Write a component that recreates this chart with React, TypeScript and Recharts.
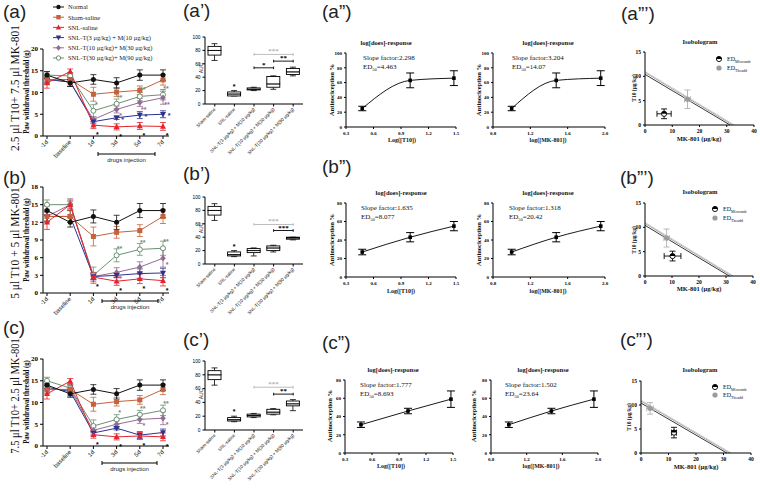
import React from "react";
import {
    LineChart,
    Line,
    XAxis,
    YAxis,
    ErrorBar,
    BarChart,
    Bar,
    ReferenceLine,
    ScatterChart,
    Scatter,
} from "recharts";

const SERIF = '"Liberation Serif", "Times New Roman", serif';
const SANS = '"Liberation Sans", Arial, sans-serif';

// ---------- time course: paw withdrawal threshold (g) ----------
const days = ["-1d", "baseline", "1d", "3d", "5d", "7d"];
const groupNames = [
    "Normal",
    "Sham-saline",
    "SNL-saline",
    "SNL-T(3 μg/kg) + M(10 μg/kg)",
    "SNL-T(10 μg/kg)+ M(30 μg/kg)",
    "SNL-T(30 μg/kg)+ M(90 μg/kg)",
];
const groupColors = ["#111111", "#c4623c", "#e3262d", "#2e3190", "#946b93", "#6c9073"];
const groupMarks = ["circle", "square", "up", "down", "diamond", "open"];

// rows: Normal, Sham, SNL-saline, T3+M10, T10+M30, T30+M90
const pwtA = [
    [14, 12.2, 13, 12.2, 14, 14],
    [12.9, 13, 9.6, 10.1, 10.5, 12.9],
    [12.2, 14.8, 2.5, 2.1, 2.3, 2.2],
    [13, 12.4, 3.3, 4.2, 4.8, 5.0],
    [13, 12.4, 3.8, 6.1, 7.7, 8.8],
    [14, 13.8, 5.8, 7.4, 9.1, 9.5],
];
const pwtB = [
    [14, 12, 13, 12, 14, 14],
    [13, 13, 9.6, 10.3, 10.6, 13],
    [12, 15, 2.7, 2.0, 2.4, 2.1],
    [13, 13, 2.8, 3.0, 3.3, 3.4],
    [13, 15, 2.8, 3.5, 4.4, 5.9],
    [15, 15, 3.0, 6.4, 7.4, 7.6],
];
const pwtC = [
    [14, 12, 13, 12, 14, 14],
    [13, 13, 9.6, 10.2, 10.6, 13],
    [12, 14.9, 2.6, 2.1, 2.3, 2.1],
    [13.5, 12.5, 3.0, 4.1, 2.5, 3.1],
    [13, 13, 3.6, 5.0, 6.1, 6.4],
    [15, 13.3, 4.6, 6.1, 7.2, 8.2],
];
const pwtSem = [
    [0.8, 0.8, 1.1, 1.2, 1.2, 1.2],
    [1.0, 1.0, 1.6, 1.0, 1.0, 1.2],
    [1.2, 0.6, 0.8, 0.7, 0.8, 0.9],
    [0.8, 1.0, 0.5, 0.4, 0.8, 0.8],
    [0.8, 1.0, 0.6, 0.8, 0.9, 1.5],
    [0.8, 0.8, 1.4, 1.1, 1.0, 1.2],
];
const starsA = [
    ["", "", "", "", "", ""],
    ["", "", "", "", "", ""],
    ["", "", "*", "*", "*", "*"],
    ["", "", "", "*", "*", "*"],
    ["", "", "", "*", "**", "**"],
    ["", "", "*", "**", "**", "**"],
];
const starsB = [
    ["", "", "", "", "", ""],
    ["", "", "", "", "", ""],
    ["", "", "*", "*", "*", "*"],
    ["", "", "", "", "", ""],
    ["", "", "", "*", "", "*"],
    ["", "", "", "**", "**", "**"],
];
const starsC = [
    ["", "", "", "", "", ""],
    ["", "", "", "", "", ""],
    ["", "", "*", "*", "*", "*"],
    ["", "", "", "", "", ""],
    ["", "", "", "", "*", "*"],
    ["", "", "", "*", "**", "**"],
];
const ticks20 = [0, 5, 10, 15, 20];
const ticks18 = [0, 3, 6, 9, 12, 15, 18];

// ---------- AUC box plots: min, q1, median, q3, max ----------
const aucGroups = [
    "Sham-saline",
    "SNL-saline",
    "SNL-T(3 μg/kg) + M(10 μg/kg)",
    "SNL-T(10 μg/kg) + M(30 μg/kg)",
    "SNL-T(30 μg/kg) + M(90 μg/kg)",
];
const aucA = [[65, 73, 80, 86, 90], [12, 12, 15, 18, 20], [20, 21, 22, 24, 25], [22, 25, 30, 41, 42], [42, 44, 48, 53, 55]];
const aucB = [[65, 73, 80, 86, 90], [11, 12, 14, 18, 20], [12, 17, 20, 23, 24], [18, 20, 24, 27, 28], [36, 37, 39, 40, 40]];
const aucC = [[65, 73, 80, 86, 90], [12, 13, 15, 18, 20], [18, 19, 21, 23, 24], [22, 23, 26, 30, 31], [28, 35, 38, 42, 44]];
const aucStars = ["", "*", "", "", ""];
// from group, to group, level, marks, compared with SNL-saline
const aucBracketsA = [[2, 4, 74, "***", true], [3, 4, 64, "**", false], [2, 3, 54, "*", false]];
const aucBracketsB = [[2, 4, 59, "***", true], [3, 4, 50, "***", false]];
const aucBracketsC = [[2, 4, 62, "***", true], [3, 4, 52, "**", false]];

// ---------- dose-response ----------
const t10Doses = [3, 10, 30];
const mkDoses = [10, 30, 90];
const drMeanA = [25, 63, 66];
const drSemA = [3, 10, 10];
const drMeanB = [27, 43, 55];
const drSemB = [3, 5, 5];
const drMeanC = [31, 46, 59];
const drSemC = [3, 3, 9];
const slopeT10 = ["2.298", "1.635", "1.777"];
const ed50T10 = ["4.463", "8.077", "8.693"];
const slopeMK = ["3.204", "1.318", "1.502"];
const ed50MK = ["14.07", "20.42", "23.64"];
const drTicks100 = [0, 20, 40, 60, 80, 100];
const drTicks80 = [0, 20, 40, 60, 80];

// ---------- isobologram: MK-801 dose, T10 dose, x error, y error ----------
const isoMix = [[7, 2.3, 2.6, 1.0], [10.2, 4.1, 3.1, 1.0], [12, 4.25, 0.9, 1.1]];
const isoTheo = [[15.6, 5.3, 1.1, 1.9], [8.0, 7.8, 1.0, 1.85], [3.3, 9.3, 1.2, 1.2]];
// T10 intercept, MK-801 intercept
const isoLines = [[10.4, 31.2], [10.8, 32.2], [11.0, 32.8]];
const isoLineColors = ["#222", "#9a9a9a", "#c8c8c8"];

// ---------- shared pieces ----------
function Marker({ kind, color, cx, cy, r = 2.5 }: any) {
    if (cx == null || cy == null) return <g />;
    if (kind === "square") return <rect x={cx - r} y={cy - r} width={2 * r} height={2 * r} fill={color} />;
    if (kind === "up")
        return <polygon points={`${cx},${cy - r * 1.3} ${cx + r * 1.2},${cy + r * 0.9} ${cx - r * 1.2},${cy + r * 0.9}`} fill={color} />;
    if (kind === "down")
        return <polygon points={`${cx},${cy + r * 1.3} ${cx + r * 1.2},${cy - r * 0.9} ${cx - r * 1.2},${cy - r * 0.9}`} fill={color} />;
    if (kind === "diamond")
        return <polygon points={`${cx},${cy - r * 1.3} ${cx + r * 1.1},${cy} ${cx},${cy + r * 1.3} ${cx - r * 1.1},${cy}`} fill={color} />;
    if (kind === "open") return <circle cx={cx} cy={cy} r={r} fill="#fff" stroke={color} strokeWidth={1} />;
    return <circle cx={cx} cy={cy} r={r} fill={color} />;
}

const RotTick = ({ x, y, payload, size, font }: any) => (
    <g transform={`translate(${x},${y}) rotate(-45)`}>
        <text x={0} y={0} dy={size * 0.35} textAnchor="end" fontSize={size} fontFamily={font} fill="#222">
            {payload.value}
        </text>
    </g>
);

const starOffsets = [[0, 0], [0, 0], [4, 12], [6, 4], [4, 9], [3, -4]];

function StarText({ x, y, text, g }: any) {
    if (!text || x == null) return <g />;
    const [dx, dy] = starOffsets[g];
    return (
        <text x={x + dx} y={y + dy} textAnchor="middle" fontSize={7} fontWeight={700} fontFamily={SANS} fill={g === 2 ? "#000" : groupColors[g]}>
            {text}
        </text>
    );
}

function TimeCourse({ values, stars, yMax, yTicks, top, mt, plotH }: any) {
    const data = days.map((day, i) => {
        const d: any = { day };
        values.forEach((v: number[], g: number) => {
            d["v" + g] = v[i];
            d["e" + g] = pwtSem[g][i];
        });
        return d;
    });
    const order = [5, 4, 3, 1, 2, 0];
    return (
        <div style={{ position: "absolute", left: 0, top }}>
            <LineChart width={175} height={mt + plotH + 30} data={data} margin={{ top: mt, right: 6, bottom: 0, left: 0 }}>
                <XAxis dataKey="day" interval={0} height={30} padding={{ left: 4, right: 6 }} tickSize={3} stroke="#000"
                    tick={<RotTick size={6} font={SANS} />} />
                <YAxis width={43} type="number" domain={[0, yMax]} ticks={yTicks} interval={0} tickSize={3} stroke="#000"
                    tick={{ fontSize: 7, fontWeight: 700, fontFamily: SERIF, fill: "#000" }} />
                {order.map((g) => (
                    <Line
                        key={g}
                        dataKey={"v" + g}
                        stroke={groupColors[g]}
                        strokeWidth={1}
                        isAnimationActive={false}
                        activeDot={false}
                        dot={(p: any) => <Marker key={p.index} kind={groupMarks[g]} color={groupColors[g]} cx={p.cx} cy={p.cy} />}
                        label={(p: any) => <StarText key={p.index} x={p.x} y={p.y} text={stars[g][p.index]} g={g} />}
                    >
                        <ErrorBar dataKey={"e" + g} width={3} stroke={groupColors[g]} strokeWidth={0.8} />
                    </Line>
                ))}
            </LineChart>
        </div>
    );
}

function Whisker({ x, y, width, height, low }: any) {
    if (x == null) return <g />;
    const cx = x + width / 2;
    const capY = low ? y + height : y;
    return (
        <g>
            <line x1={cx} x2={cx} y1={y} y2={y + height} stroke="#000" strokeWidth={0.8} />
            <line x1={cx - 3} x2={cx + 3} y1={capY} y2={capY} stroke="#000" strokeWidth={0.8} />
        </g>
    );
}

const BoxPart = ({ x, y, width, height }: any) =>
    x == null ? <g /> : <rect x={x} y={y} width={width} height={height} fill="#fff" stroke="#000" strokeWidth={0.9} />;

function AucBox({ stats, brackets, top, plotH }: any) {
    const data = aucGroups.map((name, i) => {
        const [mn, q1, md, q3, mx] = stats[i];
        return { name, base: mn, lw: q1 - mn, lo: md - q1, hi: q3 - md, uw: mx - q3 };
    });
    return (
        <div style={{ position: "absolute", left: 180, top }}>
            <BarChart width={128} height={10 + plotH + 56} data={data} margin={{ top: 10, right: 5, bottom: 0, left: 0 }} barSize={13}>
                <XAxis dataKey="name" interval={0} height={56} tickSize={2.5} stroke="#000" tick={<RotTick size={4.6} font={SANS} />} />
                <YAxis width={25} domain={[0, 100]} ticks={[0, 20, 40, 60, 80, 100]} interval={0} tickSize={2.5} stroke="#000"
                    tick={{ fontSize: 4.8, fill: "#000", fontFamily: SANS }} />
                <Bar dataKey="base" stackId="s" fill="transparent" isAnimationActive={false} />
                <Bar dataKey="lw" stackId="s" isAnimationActive={false} shape={(p: any) => <Whisker {...p} low />} />
                <Bar dataKey="lo" stackId="s" isAnimationActive={false} shape={BoxPart} />
                <Bar dataKey="hi" stackId="s" isAnimationActive={false} shape={BoxPart} />
                <Bar dataKey="uw" stackId="s" isAnimationActive={false} shape={(p: any) => <Whisker {...p} />}
                    label={(p: any) =>
                        aucStars[p.index] ? (
                            <text key={p.index} x={p.x + p.width / 2} y={p.y - 2} textAnchor="middle" fontSize={7} fontWeight={700} fontFamily={SANS}>
                                {aucStars[p.index]}
                            </text>
                        ) : (
                            <g key={p.index} />
                        )
                    } />
                {brackets.map(([a, b, lvl, txt, vsSaline]: any, k: number) => {
                    const col = vsSaline ? "#b4b4b4" : "#000";
                    return [
                        <ReferenceLine key={"h" + k} segment={[{ x: aucGroups[a], y: lvl }, { x: aucGroups[b], y: lvl }]} stroke={col} strokeWidth={0.9}
                            label={{ value: txt, position: "top", fill: col, fontSize: 7, fontWeight: 700, offset: 1 }} />,
                        <ReferenceLine key={"l" + k} segment={[{ x: aucGroups[a], y: lvl + 2 }, { x: aucGroups[a], y: lvl - 2 }]} stroke={col} strokeWidth={0.9} />,
                        <ReferenceLine key={"r" + k} segment={[{ x: aucGroups[b], y: lvl + 2 }, { x: aucGroups[b], y: lvl - 2 }]} stroke={col} strokeWidth={0.9} />,
                    ];
                })}
            </BarChart>
        </div>
    );
}

const tinyTick = { fontSize: 5, fontWeight: 700, fontFamily: SERIF, fill: "#000" };

function DoseResponse({ doses, means, sems, xDomain, xTicks, yMax, yTicks, left, top, plotW, plotH }: any) {
    const data = doses.map((d: number, i: number) => ({ x: Math.log10(d), y: means[i], e: sems[i] }));
    return (
        <div style={{ position: "absolute", left, top }}>
            <LineChart width={26 + plotW + 6} height={8 + plotH + 20} data={data} margin={{ top: 8, right: 6, bottom: 0, left: 0 }}>
                <XAxis type="number" dataKey="x" domain={xDomain} ticks={xTicks} interval={0} allowDataOverflow height={20} tickSize={2}
                    stroke="#000" tick={tinyTick} tickFormatter={(v: number) => v.toFixed(1)} />
                <YAxis width={26} domain={[0, yMax]} ticks={yTicks} interval={0} tickSize={2} stroke="#000" tick={tinyTick} />
                <Line type="monotone" dataKey="y" stroke="#000" strokeWidth={0.9} isAnimationActive={false} activeDot={false}
                    dot={(p: any) => <rect key={p.index} x={p.cx - 1.8} y={p.cy - 1.8} width={3.6} height={3.6} fill="#000" />}>
                    <ErrorBar dataKey="e" width={4} stroke="#000" strokeWidth={1} />
                </Line>
            </LineChart>
        </div>
    );
}

const HalfDot = ({ cx, cy }: any) =>
    cx == null ? <g /> : (
        <g>
            <circle cx={cx} cy={cy} r={2.6} fill="#fff" stroke="#000" strokeWidth={0.9} />
            <path d={`M${cx - 2.6},${cy} A2.6,2.6 0 0 1 ${cx + 2.6},${cy} Z`} fill="#000" />
        </g>
    );

const GrayDot = ({ cx, cy }: any) => (cx == null ? <g /> : <circle cx={cx} cy={cy} r={2.6} fill="#9b9b9b" />);

function Isobologram({ mix, theo, left, top, plotW, plotH }: any) {
    const isoTick = { fontSize: 5.5, fontWeight: 700, fontFamily: SERIF, fill: "#000" };
    return (
        <div style={{ position: "absolute", left, top }}>
            <ScatterChart width={25 + plotW + 6} height={8 + plotH + 18} margin={{ top: 8, right: 6, bottom: 0, left: 0 }}>
                <XAxis type="number" dataKey="x" domain={[0, 40]} ticks={[0, 10, 20, 30, 40]} interval={0} height={18} tickSize={2} stroke="#000" tick={isoTick} />
                <YAxis type="number" dataKey="y" domain={[0, 15]} ticks={[0, 5, 10, 15]} interval={0} width={25} tickSize={2} stroke="#000" tick={isoTick} />
                {isoLines.map(([yi, xi], k) => (
                    <ReferenceLine key={k} segment={[{ x: 0, y: yi }, { x: xi, y: 0 }]} stroke={isoLineColors[k]} strokeWidth={0.9} />
                ))}
                <Scatter data={[{ x: theo[0], y: theo[1], ex: theo[2], ey: theo[3] }]} isAnimationActive={false} shape={GrayDot}>
                    <ErrorBar dataKey="ex" direction="x" width={3} stroke="#b0b0b0" strokeWidth={0.9} />
                    <ErrorBar dataKey="ey" direction="y" width={3} stroke="#b0b0b0" strokeWidth={0.9} />
                </Scatter>
                <Scatter data={[{ x: mix[0], y: mix[1], ex: mix[2], ey: mix[3] }]} isAnimationActive={false} shape={HalfDot}>
                    <ErrorBar dataKey="ex" direction="x" width={3} stroke="#000" strokeWidth={0.9} />
                    <ErrorBar dataKey="ey" direction="y" width={3} stroke="#000" strokeWidth={0.9} />
                </Scatter>
            </ScatterChart>
        </div>
    );
}

// ---------- text layer ----------
const Txt = ({ x, y, size, children, anchor = "start", bold = false, font = SERIF, fill = "#111", rotate = false, sx = 1 }: any) => (
    <g transform={`translate(${x},${y})${rotate ? " rotate(-90)" : ""}${sx !== 1 ? ` scale(${sx},1)` : ""}`}>
        <text x={0} y={0} fontSize={size} fontFamily={font} fontWeight={bold ? 700 : 400} fill={fill} textAnchor={anchor}>
            {children}
        </text>
    </g>
);

const panelLabels: [string, number, number][] = [
    ["(a)", 3, 18], ["(a’)", 183, 17], ["(a”)", 322, 18], ["(a”’)", 621, 20],
    ["(b)", 3, 184], ["(b’)", 183, 180], ["(b”)", 322, 173], ["(b”’)", 620, 184],
    ["(c)", 3, 334], ["(c’)", 183, 346], ["(c”)", 322, 349], ["(c”’)", 620, 346],
];
const rowTitles = ["2.5 μl T10+ 7.5 μl MK-801", "5 μl T10 + 5 μl MK-801", "7.5 μl T10+ 2.5 μl MK-801"];

function Overlay() {
    const rowCy = [88, 243, 396];
    const rowSx = [0.85, 0.85, 0.78];
    const pawCy = [92, 240, 402];
    const drug = [[154, 98, 155, 162], [301, 102, 158, 309], [463, 102, 157, 471]];
    const aucCy = [68, 228, 394];
    const drTitleY = [45, 195, 372];
    const drSlopeY = [60, 210, 387];
    const drSlopeXL = [363, 361, 360];
    const drSlopeXR = [512, 509, 505];
    const drTitleXL = [386, 401, 393];
    const drTitleXR = [548, 548, 543];
    const drXTitleY = [142, 293, 468];
    const drXTitleXL = [402, 401, 391];
    const drXTitleXR = [548, 548, 541];
    const drYTitleXL = [334, 334, 332];
    const drYTitleXR = [481, 481, 476];
    const drCy = [90, 240, 416];
    const isoTitleY = [44, 194, 372];
    const isoYX = [636, 636, 631];
    const isoCy = [88, 240, 417];
    const isoXTitleY = [141, 291, 469];
    const isoXTitleX = [699, 699, 696];
    const isoLegX = [719, 715, 715];
    const isoLegY = [[59, 68], [209, 218], [387, 395]];
    return (
        <svg width={760} height={488} style={{ position: "absolute", left: 0, top: 0, pointerEvents: "none" }}>
            {panelLabels.map(([t, x, y]) => (
                <Txt key={t} x={x} y={y} size={19} font={SANS} fill="#222">{t}</Txt>
            ))}
            {rowTitles.map((t, i) => (
                <Txt key={t} x={19} y={rowCy[i]} size={13.5} anchor="middle" rotate sx={rowSx[i]} fill="#111">{t}</Txt>
            ))}
            {[0, 1, 2].map((i) => (
                <g key={"row" + i}>
                    <Txt x={29} y={pawCy[i]} size={7.5} bold anchor="middle" rotate sx={0.88}>Paw withdrawal threshold (g)</Txt>
                    <line x1={drug[i][1]} x2={drug[i][2]} y1={drug[i][0]} y2={drug[i][0]} stroke="#000" strokeWidth={1} />
                    <line x1={drug[i][1]} x2={drug[i][1]} y1={drug[i][0] - 2} y2={drug[i][0] + 2} stroke="#000" strokeWidth={1} />
                    <line x1={drug[i][2]} x2={drug[i][2]} y1={drug[i][0] - 2} y2={drug[i][0] + 2} stroke="#000" strokeWidth={1} />
                    <Txt x={(drug[i][1] + drug[i][2]) / 2} y={drug[i][3]} size={6} font={SANS} anchor="middle" fill="#222">drugs injection</Txt>
                    <Txt x={203} y={aucCy[i]} size={5} font={SANS} anchor="middle" rotate>AUC</Txt>

                    <Txt x={drTitleXL[i]} y={drTitleY[i]} size={6.5} bold anchor="middle">log[does]-response</Txt>
                    <Txt x={drTitleXR[i]} y={drTitleY[i]} size={6.5} bold anchor="middle">log[does]-response</Txt>
                    <Txt x={drSlopeXL[i]} y={drSlopeY[i]} size={7}>Slope factor:{slopeT10[i]}</Txt>
                    <text x={drSlopeXL[i]} y={drSlopeY[i] + 9} fontSize={7} fontFamily={SERIF} fill="#111">
                        ED<tspan fontSize={4.5} dy={1.5}>50</tspan><tspan dy={-1.5}>={ed50T10[i]}</tspan>
                    </text>
                    <Txt x={drSlopeXR[i]} y={drSlopeY[i]} size={7}>Slope factor:{slopeMK[i]}</Txt>
                    <text x={drSlopeXR[i]} y={drSlopeY[i] + 9} fontSize={7} fontFamily={SERIF} fill="#111">
                        ED<tspan fontSize={4.5} dy={1.5}>50</tspan><tspan dy={-1.5}>={ed50MK[i]}</tspan>
                    </text>
                    <Txt x={drXTitleXL[i]} y={drXTitleY[i]} size={6} bold anchor="middle">Log([T10])</Txt>
                    <Txt x={drXTitleXR[i]} y={drXTitleY[i]} size={6} bold anchor="middle">log([MK-801])</Txt>
                    <Txt x={drYTitleXL[i]} y={drCy[i]} size={6.5} bold anchor="middle" rotate>Antinociception %</Txt>
                    <Txt x={drYTitleXR[i]} y={drCy[i]} size={6.5} bold anchor="middle" rotate>Antinociception %</Txt>

                    <Txt x={700} y={isoTitleY[i]} size={6.5} bold anchor="middle">Isobologram</Txt>
                    <Txt x={isoYX[i]} y={isoCy[i]} size={5.5} bold anchor="middle" rotate>T10 (µg/kg)</Txt>
                    <Txt x={isoXTitleX[i]} y={isoXTitleY[i]} size={6.5} bold anchor="middle">MK-801 (µg/kg)</Txt>
                    <HalfDot cx={isoLegX[i]} cy={isoLegY[i][0]} />
                    <GrayDot cx={isoLegX[i]} cy={isoLegY[i][1]} />
                    <text x={isoLegX[i] + 8} y={isoLegY[i][0] + 2} fontSize={6} fontFamily={SERIF} fill="#111">
                        ED<tspan fontSize={4} dy={1.5}>Mixcomb</tspan>
                    </text>
                    <text x={isoLegX[i] + 8} y={isoLegY[i][1] + 2} fontSize={6} fontFamily={SERIF} fill="#111">
                        ED<tspan fontSize={4} dy={1.5}>Theadd</tspan>
                    </text>
                </g>
            ))}
            {groupNames.map((name, g) => {
                const y = 7 + 10.2 * g;
                return (
                    <g key={name}>
                        <line x1={53} x2={64} y1={y} y2={y} stroke={groupColors[g]} strokeWidth={1} />
                        <Marker kind={groupMarks[g]} color={groupColors[g]} cx={58.5} cy={y} r={2.2} />
                        <Txt x={68} y={y + 2.3} size={6.5} fill="#222">{name}</Txt>
                    </g>
                );
            })}
        </svg>
    );
}

export default function App() {
    return (
        <div style={{ position: "fixed", left: 0, top: 0, width: 760, height: 488, background: "#fff", overflow: "hidden" }}>
            <TimeCourse values={pwtA} stars={starsA} yMax={20} yTicks={ticks20} top={40} mt={9} plotH={87} />
            <TimeCourse values={pwtB} stars={starsB} yMax={18} yTicks={ticks18} top={177} mt={10} plotH={106} />
            <TimeCourse values={pwtC} stars={starsC} yMax={20} yTicks={ticks20} top={350} mt={9} plotH={87} />

            <AucBox stats={aucA} brackets={aucBracketsA} top={27} plotH={67} />
            <AucBox stats={aucB} brackets={aucBracketsB} top={187} plotH={67} />
            <AucBox stats={aucC} brackets={aucBracketsC} top={351} plotH={69} />

            <DoseResponse doses={t10Doses} means={drMeanA} sems={drSemA} xDomain={[0.3, 1.5]} xTicks={[0.3, 0.6, 0.9, 1.2, 1.5]}
                yMax={100} yTicks={drTicks100} left={320} top={45} plotW={110} plotH={74} />
            <DoseResponse doses={mkDoses} means={drMeanA} sems={drSemA} xDomain={[0.8, 2.0]} xTicks={[0.8, 1.2, 1.6, 2.0]}
                yMax={100} yTicks={drTicks100} left={467} top={45} plotW={112} plotH={74} />
            <DoseResponse doses={t10Doses} means={drMeanB} sems={drSemB} xDomain={[0.3, 1.5]} xTicks={[0.3, 0.6, 0.9, 1.2, 1.5]}
                yMax={80} yTicks={drTicks80} left={320} top={195} plotW={110} plotH={74} />
            <DoseResponse doses={mkDoses} means={drMeanB} sems={drSemB} xDomain={[0.8, 2.0]} xTicks={[0.8, 1.2, 1.6, 2.0]}
                yMax={80} yTicks={drTicks80} left={467} top={195} plotW={112} plotH={74} />
            <DoseResponse doses={t10Doses} means={drMeanC} sems={drSemC} xDomain={[0.3, 1.5]} xTicks={[0.3, 0.6, 0.9, 1.2, 1.5]}
                yMax={80} yTicks={drTicks80} left={319} top={372} plotW={108} plotH={73} />
            <DoseResponse doses={mkDoses} means={drMeanC} sems={drSemC} xDomain={[0.8, 2.0]} xTicks={[0.8, 1.2, 1.6, 2.0]}
                yMax={80} yTicks={drTicks80} left={465} top={372} plotW={107} plotH={73} />

            <Isobologram mix={isoMix[0]} theo={isoTheo[0]} left={620} top={44} plotW={109} plotH={73} />
            <Isobologram mix={isoMix[1]} theo={isoTheo[1]} left={620} top={195} plotW={108} plotH={73} />
            <Isobologram mix={isoMix[2]} theo={isoTheo[2]} left={616} top={373} plotW={110} plotH={72} />

            <Overlay />
        </div>
    );
}
